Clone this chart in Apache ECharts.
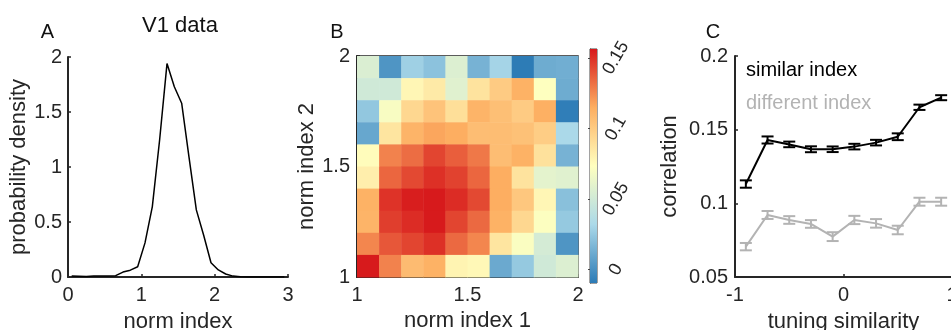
<!DOCTYPE html>
<html><head><meta charset="utf-8">
<script src="https://cdn.jsdelivr.net/npm/echarts@6/dist/echarts.min.js"></script>
<style>html,body{margin:0;padding:0;background:#fff}#c{width:951px;height:330px}</style>
</head><body><div id="c"></div>
<script>
// ---------- Panel A: V1 data ----------
const densityX = [0.05,0.15,0.25,0.35,0.45,0.55,0.65,0.75,0.85,0.95,1.05,1.15,1.25,1.35,1.45,1.55,1.65,1.75,1.85,1.95,2.05,2.15,2.25,2.35,2.45,2.55,2.65,2.75,2.85,2.95];
const densityY = [0.008,0.006,0.004,0.008,0.010,0.008,0.012,0.045,0.062,0.093,0.31,0.64,1.25,1.94,1.73,1.58,1.09,0.61,0.38,0.13,0.064,0.027,0.008,0.002,0,0,0,0,0,0];
const densityXTicks = [0, 3, 1];   // min, max, step
const densityYTicks = [0, 2, 0.5];

// ---------- Panel B: heatmap ----------
const binEdges = [1.0,1.1,1.2,1.3,1.4,1.5,1.6,1.7,1.8,1.9,2.0];
// rows listed from top (norm index 2 = 1.9-2.0) to bottom (1.0-1.1)
const heatRows = [
  [0.055,0.002,0.028,0.022,0.056,0.015,0.030,-0.009,0.012,0.013],
  [0.050,0.050,0.078,0.084,0.058,0.088,0.100,0.113,0.073,0.012],
  [0.024,0.070,0.094,0.104,0.090,0.112,0.106,0.100,0.114,-0.008],
  [0.010,0.087,0.112,0.117,0.115,0.107,0.107,0.105,0.099,0.032],
  [0.075,0.127,0.133,0.144,0.137,0.130,0.107,0.113,0.089,0.015],
  [0.082,0.135,0.143,0.150,0.145,0.135,0.115,0.088,0.060,0.058],
  [0.113,0.149,0.155,0.156,0.151,0.143,0.115,0.102,0.078,0.021],
  [0.112,0.146,0.151,0.156,0.144,0.134,0.113,0.094,0.072,0.025],
  [0.126,0.139,0.144,0.150,0.134,0.126,0.087,0.071,0.052,0.002],
  [0.156,0.127,0.108,0.113,0.079,0.077,0.011,0.025,0.050,0.056]
];
const colorLimits = [-0.0094, 0.1563];
const colorTicks = [0, 0.05, 0.1, 0.15];
const colorMap = ['#2c7bb6','#abd9e9','#ffffbf','#fdae61','#d7191c'];

// ---------- Panel C: correlation ----------
const tuningX = [-0.9,-0.7,-0.5,-0.3,-0.1,0.1,0.3,0.5,0.7,0.9];
const similarMean = [0.1131,0.1430,0.1400,0.1367,0.1367,0.1385,0.1412,0.1452,0.1652,0.1717];
const similarErr  = [0.0025,0.0024,0.0019,0.0020,0.0019,0.0019,0.0019,0.0023,0.0018,0.0017];
const differentMean = [0.0706,0.0921,0.0887,0.0860,0.0774,0.0887,0.0864,0.0819,0.1011,0.1011];
const differentErr  = [0.0025,0.0027,0.0026,0.0026,0.0030,0.0028,0.0029,0.0029,0.0027,0.0027];

// ---------- build ----------
const FONT = 'Liberation Sans, Arial, Helvetica, sans-serif';
const AX = '#262626';
const GRAY = '#b3b3b3';

const heatData = [];
heatRows.forEach((row, r) => {
  const j = heatRows.length - 1 - r;
  row.forEach((v, i) => heatData.push([binEdges[i], binEdges[i+1], binEdges[j], binEdges[j+1], v]));
});

function axisCommon(extra) {
  return Object.assign({
    type: 'value',
    axisLine: { show: true, onZero: false, lineStyle: { color: AX, width: 2 } },
    axisTick: { show: true, inside: true, length: 3, lineStyle: { color: AX, width: 1.5 } },
    axisLabel: { color: AX, fontSize: 20, fontFamily: FONT },
    splitLine: { show: false },
    nameLocation: 'middle',
    nameTextStyle: { color: AX, fontSize: 22, fontFamily: FONT }
  }, extra);
}

function errRender(color) {
  return function (params, api) {
    const x = api.value(0), m = api.value(1), e = api.value(2);
    const t = api.coord([x, m + e]), b = api.coord([x, m - e]);
    const hw = 6, st = { stroke: color, lineWidth: 2 };
    return { type: 'group', children: [
      { type: 'line', shape: { x1: t[0], y1: t[1], x2: b[0], y2: b[1] }, style: st },
      { type: 'line', shape: { x1: t[0]-hw, y1: t[1], x2: t[0]+hw, y2: t[1] }, style: st },
      { type: 'line', shape: { x1: b[0]-hw, y1: b[1], x2: b[0]+hw, y2: b[1] }, style: st }
    ]};
  };
}

const gradStops = colorMap.map((c, i) => ({ offset: i / (colorMap.length - 1), color: c }));

const option = {
  animation: false,
  backgroundColor: '#fff',
  grid: [
    { left: 68, top: 57, width: 220, height: 220, outerBoundsMode: 'none' },
    { left: 357, top: 56, width: 221, height: 221, show: true, borderColor: AX, borderWidth: 1.5, backgroundColor: 'transparent', outerBoundsMode: 'none' },
    { left: 590, top: 49, width: 7, height: 234, show: true, borderColor: '#444', borderWidth: 1, backgroundColor: 'transparent', outerBoundsMode: 'none' },
    { left: 735, top: 56, width: 217, height: 221, outerBoundsMode: 'none' }
  ],
  xAxis: [
    axisCommon({ gridIndex: 0, min: densityXTicks[0], max: densityXTicks[1], interval: densityXTicks[2], name: 'norm index', nameGap: 34, axisLabel: { color: AX, fontSize: 20, fontFamily: FONT, margin: 8 } }),
    axisCommon({ gridIndex: 1, min: 1, max: 2, interval: 0.5, name: 'norm index 1', nameGap: 33, axisLabel: { color: AX, fontSize: 20, fontFamily: FONT, margin: 8 } }),
    { type: 'value', gridIndex: 2, min: 0, max: 1, show: false },
    axisCommon({ gridIndex: 3, min: -1, max: 1, interval: 1, name: 'tuning similarity', nameGap: 34, axisLabel: { color: AX, fontSize: 20, fontFamily: FONT, margin: 8, showMaxLabel: true } })
  ],
  yAxis: [
    axisCommon({ gridIndex: 0, min: densityYTicks[0], max: densityYTicks[1], interval: densityYTicks[2], name: 'probability density', nameGap: 36, axisLabel: { color: AX, fontSize: 20, fontFamily: FONT, margin: 6 } }),
    axisCommon({ gridIndex: 1, min: 1, max: 2, interval: 0.5, name: 'norm index 2', nameGap: 36, axisLabel: { color: AX, fontSize: 20, fontFamily: FONT, margin: 7 } }),
    {
      type: 'value', gridIndex: 2, position: 'right', min: colorLimits[0], max: colorLimits[1],
      axisLine: { show: true, lineStyle: { color: '#444', width: 1 } },
      axisTick: { show: true, inside: true, length: 2, customValues: colorTicks, lineStyle: { color: '#444' } },
      axisLabel: { customValues: colorTicks, rotate: 60, align: 'center', verticalAlign: 'middle', margin: 19, color: AX, fontSize: 18, fontFamily: FONT },
      splitLine: { show: false }
    },
    axisCommon({ gridIndex: 3, min: 0.05, max: 0.2, interval: 0.05, name: 'correlation', nameGap: 54, axisLabel: { color: AX, fontSize: 20, fontFamily: FONT, margin: 7 } })
  ],
  visualMap: [{
    type: 'continuous', show: false, seriesIndex: 1, dimension: 4,
    min: colorLimits[0], max: colorLimits[1], inRange: { color: colorMap }
  }],
  series: [
    { type: 'line', xAxisIndex: 0, yAxisIndex: 0, data: densityX.map((x, i) => [x, densityY[i]]),
      showSymbol: false, symbol: 'none', lineStyle: { color: '#000', width: 1.5 } },
    { type: 'custom', xAxisIndex: 1, yAxisIndex: 1, data: heatData, encode: { x: [0, 1], y: [2, 3] },
      renderItem: function (params, api) {
        const p1 = api.coord([api.value(0), api.value(3)]);
        const p2 = api.coord([api.value(1), api.value(2)]);
        return { type: 'rect', shape: { x: p1[0], y: p1[1], width: p2[0] - p1[0] + 0.5, height: p2[1] - p1[1] + 0.5 },
          style: { fill: api.visual('color') } };
      } },
    { type: 'custom', xAxisIndex: 2, yAxisIndex: 2, data: [[0, 1, colorLimits[0], colorLimits[1]]], encode: { x: [0, 1], y: [2, 3] },
      renderItem: function (params, api) {
        const p1 = api.coord([api.value(0), api.value(3)]);
        const p2 = api.coord([api.value(1), api.value(2)]);
        return { type: 'rect', shape: { x: p1[0], y: p1[1], width: p2[0] - p1[0], height: p2[1] - p1[1] },
          style: { fill: { type: 'linear', x: 0, y: 1, x2: 0, y2: 0, colorStops: gradStops } } };
      } },
    { type: 'line', xAxisIndex: 3, yAxisIndex: 3, data: tuningX.map((x, i) => [x, differentMean[i]]),
      symbol: 'none', lineStyle: { color: GRAY, width: 2 } },
    { type: 'custom', xAxisIndex: 3, yAxisIndex: 3, data: tuningX.map((x, i) => [x, differentMean[i], differentErr[i]]),
      encode: { x: 0, y: 1 }, renderItem: errRender(GRAY) },
    { type: 'line', xAxisIndex: 3, yAxisIndex: 3, data: tuningX.map((x, i) => [x, similarMean[i]]),
      symbol: 'none', lineStyle: { color: '#000', width: 2 } },
    { type: 'custom', xAxisIndex: 3, yAxisIndex: 3, data: tuningX.map((x, i) => [x, similarMean[i], similarErr[i]]),
      encode: { x: 0, y: 1 }, renderItem: errRender('#000') }
  ],
  graphic: [
    { type: 'text', x: 47.5, y: 22, style: { text: 'A', align: 'center', verticalAlign: 'top', fontSize: 20, fontFamily: FONT, fill: '#111' } },
    { type: 'text', x: 337, y: 22, style: { text: 'B', align: 'center', verticalAlign: 'top', fontSize: 20, fontFamily: FONT, fill: '#111' } },
    { type: 'text', x: 713, y: 22, style: { text: 'C', align: 'center', verticalAlign: 'top', fontSize: 20, fontFamily: FONT, fill: '#111' } },
    { type: 'text', x: 180, y: 15, style: { text: 'V1 data', align: 'center', verticalAlign: 'top', fontSize: 22, fontFamily: FONT, fill: '#111' } },
    { type: 'text', x: 746, y: 60, style: { text: 'similar index', align: 'left', verticalAlign: 'top', fontSize: 20, fontFamily: FONT, fill: '#000' } },
    { type: 'text', x: 746, y: 93, style: { text: 'different index', align: 'left', verticalAlign: 'top', fontSize: 20, fontFamily: FONT, fill: GRAY } }
  ]
};

const chart = echarts.init(document.getElementById('c'), null, { renderer: 'canvas' });
chart.setOption(option);
</script>
</body></html>
